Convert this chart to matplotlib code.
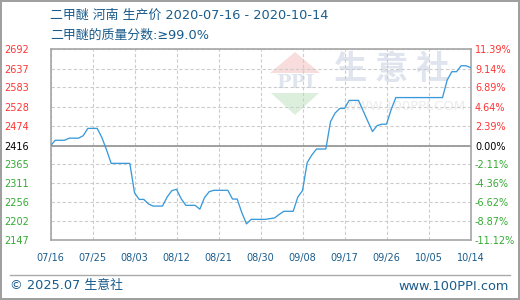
import matplotlib
matplotlib.use("Agg")
import matplotlib.pyplot as plt
from matplotlib.patches import Polygon
import pandas as pd

plt.rcParams['font.family'] = ['DejaVu Sans', 'Noto Sans CJK SC']

# ---------------- data ----------------
start_date = "2020-07-16"
day_offsets = [0, 1, 3, 4, 6, 7, 8, 10, 11, 12, 13, 17, 18, 19, 20, 21, 22, 24,
               25, 26, 27, 28, 29, 31, 32, 33, 34, 35, 38, 39, 40, 41, 42, 43,
               46, 47, 48, 49, 50, 52, 53, 54, 55, 56, 57, 59, 60, 61, 62, 63,
               64, 66, 67, 68, 69, 70, 71, 72, 73, 74, 84, 85, 86, 87, 88, 89, 90]
prices = [2416, 2432, 2432, 2438, 2438, 2445, 2466, 2466, 2440, 2405, 2366, 2366,
          2282, 2263, 2263, 2250, 2244, 2244,
          2270, 2288, 2292, 2265, 2246, 2246, 2235, 2268, 2285, 2289, 2289, 2264,
          2264, 2225, 2193, 2206,
          2206, 2208, 2210, 2220, 2229, 2229, 2270, 2288, 2368, 2390, 2407, 2407,
          2485, 2510, 2523, 2523,
          2546, 2546, 2516, 2486, 2457, 2474, 2478, 2478, 2520, 2554, 2554, 2604,
          2628, 2628, 2645, 2645, 2640]
base_price = 2416
left_ticks = [2147, 2202, 2256, 2311, 2365, 2416, 2474, 2528, 2583, 2637, 2692]
right_labels = ["-11.12%", "-8.87%", "-6.62%", "-4.36%", "-2.11%", "0.00%",
                "2.39%", "4.64%", "6.89%", "9.14%", "11.39%"]
x_tick_labels = ["07/16", "07/25", "08/03", "08/12", "08/21", "08/30",
                 "09/08", "09/17", "09/26", "10/05", "10/14"]
title1 = "二甲醚 河南 生产价 2020-07-16 - 2020-10-14"
title2 = "二甲醚的质量分数:≥99.0%"
footer_left = "© 2025.07 生意社"
footer_right = "www.100PPI.com"

dates = pd.to_datetime(start_date) + pd.to_timedelta(day_offsets, unit="D")
x_ticks = pd.date_range(start_date, periods=len(x_tick_labels), freq="9D")

RED = "#ff3333"
GREEN = "#33aa33"
BLUE_TXT = "#1a5c8c"
LINE = "#3a9ad9"
GRAY = "#999999"

W, H = 520, 300
fig = plt.figure(figsize=(W / 100, H / 100), dpi=100)
fig.patch.set_facecolor("white")
fig.patch.set_edgecolor("#a0a0a0")
fig.patch.set_linewidth(1.5)

L, R, T, B = 50.5, 470.5, 49.3, 240
ax = fig.add_axes([L / W, 1 - B / H, (R - L) / W, (B - T) / H])

# watermark (figure pixel coords)
def px(x, y):
    return (x / W, 1 - y / H)

fig.patches.append(Polygon([px(295, 52), px(270, 73), px(320, 73)], closed=True,
                           transform=fig.transFigure, facecolor="#f9dcdc",
                           edgecolor="none", zorder=0.5))
fig.patches.append(Polygon([px(271, 93), px(319, 93), px(295, 115)], closed=True,
                           transform=fig.transFigure, facecolor="#dcefdc",
                           edgecolor="none", zorder=0.5))
fig.text(295 / W, 1 - 83 / H, "PPI", fontsize=14, fontweight="bold",
         color="#dfe4ee", ha="center", va="center", zorder=0.6,
         family="DejaVu Serif")
fig.text(392 / W, 1 - 69 / H, "生 意 社", fontsize=24, fontweight="bold",
         color="#dfe4ee", ha="center", va="center", zorder=0.6,
         family=["Noto Sans CJK SC"])
fig.text(405 / W, 1 - 107 / H, "WWW.100PPI.COM", fontsize=9.5,
         color="#ececec", ha="center", va="center", zorder=0.6)

ax.set_facecolor("none")
ax.set_zorder(2)

ax.plot(dates, prices, color=LINE, linewidth=0.95, zorder=3)

ax.set_xlim(x_ticks[0], x_ticks[-1])
ax.set_ylim(left_ticks[0], left_ticks[-1])
ax.set_xticks(x_ticks)
ax.set_xticklabels(x_tick_labels)
ax.set_yticks(left_ticks)
ax.set_yticklabels([str(v) for v in left_ticks])

for lbl, v in zip(ax.get_yticklabels(), left_ticks):
    lbl.set_color(RED if v > base_price else (GREEN if v < base_price else "black"))
    lbl.set_horizontalalignment("left")
ax.tick_params(axis="y", length=0, pad=33.5, labelsize=7)
ax.tick_params(axis="x", length=0, pad=9, labelsize=7, colors=BLUE_TXT)

ax.grid(True, color="#cccccc", linestyle=(0, (3, 2)), linewidth=0.8)
ax.axhline(base_price, color=GRAY, linewidth=1.3, zorder=2.5)
for s in ax.spines.values():
    s.set_color("#a6a6a6")
    s.set_linewidth(1.2)

ax2 = ax.twinx()
ax2.set_ylim(ax.get_ylim())
ax2.set_yticks(left_ticks)
ax2.set_yticklabels(right_labels)
for lbl, v in zip(ax2.get_yticklabels(), left_ticks):
    lbl.set_color(RED if v > base_price else (GREEN if v < base_price else "black"))
ax2.tick_params(axis="y", length=0, pad=3.2, labelsize=7)
for s in ax2.spines.values():
    s.set_visible(False)

fig.text(50 / W, 1 - 15 / H, title1, fontsize=9.3, color=BLUE_TXT,
         ha="left", va="center")
fig.text(50 / W, 1 - 35 / H, title2, fontsize=9.3, color=BLUE_TXT,
         ha="left", va="center")

fig.add_artist(plt.Line2D([10 / W, 510 / W], [1 - 275 / H, 1 - 275 / H],
                          transform=fig.transFigure, color="#aaaaaa", linewidth=1))
fig.text(10 / W, 1 - 286 / H, footer_left, fontsize=9.3, color=BLUE_TXT,
         ha="left", va="center")
fig.text(509 / W, 1 - 286 / H, footer_right, fontsize=9.3, color=BLUE_TXT,
         ha="right", va="center")

fig.savefig("out.png", dpi=100, facecolor=fig.get_facecolor(),
            edgecolor=fig.get_edgecolor())
